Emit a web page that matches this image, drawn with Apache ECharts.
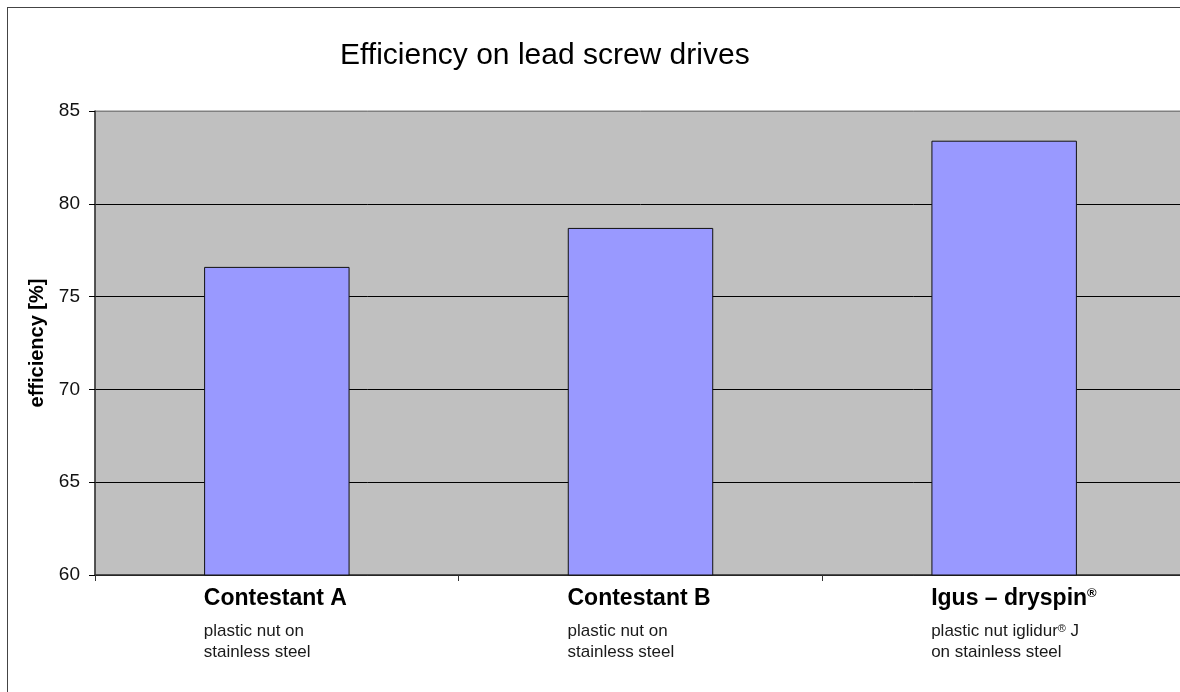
<!DOCTYPE html>
<html>
<head>
<meta charset="utf-8">
<script src="https://cdn.jsdelivr.net/npm/echarts@6/dist/echarts.min.js"></script>
<style>
html,body{margin:0;padding:0;background:#fff;overflow:hidden;width:1180px;height:692px;}
#frame{position:absolute;left:7px;top:7px;width:1400px;height:900px;border:1px solid #444;}
#chart{position:absolute;left:0;top:0;width:1186px;height:692px;}
</style>
</head>
<body>
<div id="frame"></div>
<div id="chart"></div>
<script>
const categories = ['Contestant A', 'Contestant B', 'Igus – dryspin®'];
const subLine1 = ['plastic nut on', 'plastic nut on', 'plastic nut iglidur® J'];
const subLine2 = ['stainless steel', 'stainless steel', 'on stainless steel'];
const efficiency = [76.6, 78.7, 83.4];
const yMin = 60, yMax = 85, yStep = 5;

const FONT = '"Liberation Sans", Arial, sans-serif';
function sup(text, base, supStyle) {
  return text.split('®').map(p => p ? `{${base}|${p}}` : '').join(`{${supStyle}|®}`);
}

const chart = echarts.init(document.getElementById('chart'));
chart.setOption({
  animation: false,
  title: {
    text: 'Efficiency on lead screw drives',
    left: 340, top: 41, padding: 0,
    textStyle: {fontFamily: FONT, fontSize: 30, fontWeight: 'normal', color: '#000'}
  },
  grid: {
    left: 95, right: 0, top: 111, bottom: 117,
    show: true, backgroundColor: '#c0c0c0', borderColor: '#808080', borderWidth: 1
  },
  xAxis: {
    type: 'category',
    data: categories,
    axisLine: {lineStyle: {color: '#333', width: 1.5}},
    axisTick: {show: true, length: 6, lineStyle: {color: '#333'}},
    axisLabel: {
      interval: 0, margin: 2, width: 146, align: 'center', overflow: 'none',
      formatter: (v, i) => sup(v, 'h', 'hs') + '\n' + sup(subLine1[i], 's', 'ss') + '\n' + sup(subLine2[i], 's', 'ss'),
      rich: {
        h: {fontFamily: FONT, fontSize: 23, fontWeight: 'bold', color: '#000', lineHeight: 44, align: 'left'},
        hs: {fontFamily: FONT, fontSize: 13, fontWeight: 'bold', color: '#000', lineHeight: 44, align: 'left', padding: [0, 0, 12, 0]},
        s: {fontFamily: FONT, fontSize: 17, color: '#1a1a1a', lineHeight: 21, align: 'left'},
        ss: {fontFamily: FONT, fontSize: 11, color: '#1a1a1a', lineHeight: 21, align: 'left', padding: [0, 0, 6, 0]}
      }
    }
  },
  yAxis: {
    type: 'value',
    min: yMin, max: yMax, interval: yStep,
    name: 'efficiency [%]',
    nameLocation: 'middle',
    nameGap: 48,
    nameTextStyle: {fontFamily: FONT, fontSize: 20, fontWeight: 'bold', color: '#000'},
    axisLine: {show: true, lineStyle: {color: '#333', width: 1.5}},
    axisTick: {show: true, length: 6, lineStyle: {color: '#000'}},
    axisLabel: {fontFamily: FONT, fontSize: 19, color: '#111', margin: 15},
    splitLine: {show: true, lineStyle: {color: ['#000', '#000', '#000', '#000', '#000', '#808080'], width: 1}}
  },
  series: [{
    type: 'bar',
    data: efficiency,
    barWidth: '40%',
    itemStyle: {color: '#9999ff', borderColor: '#111', borderWidth: 1}
  }]
});
</script>
</body>
</html>
